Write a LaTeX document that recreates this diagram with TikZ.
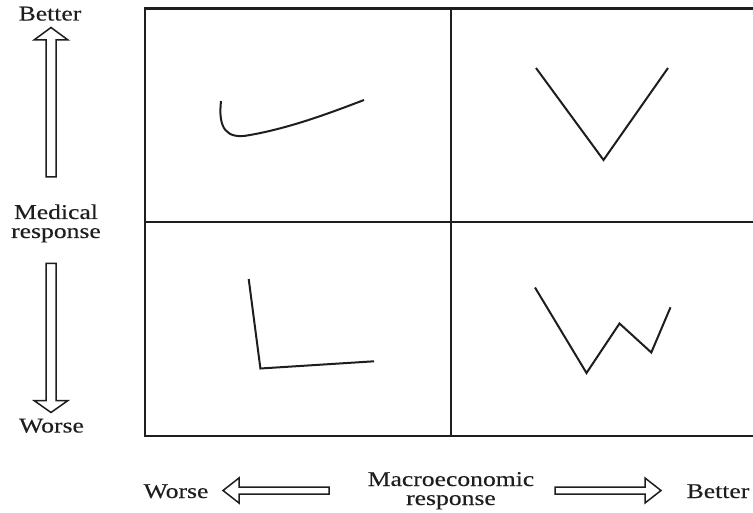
\documentclass[tikz,border=0pt]{standalone}
\usepackage{fontspec}
\setmainfont[FakeStretch=1.22,FakeBold=0.25]{Liberation Serif}
\definecolor{ink}{HTML}{1E1E1E}
\begin{document}
\begin{tikzpicture}[x=1pt,y=-1pt,
  lbl/.style={inner sep=0pt,anchor=base,font=\fontsize{21}{19}\selectfont,text=ink,align=center},
  frame/.style={draw=ink,line width=2.4pt},
  divider/.style={draw=ink,line width=1.3pt},
  curve/.style={draw=ink,line width=2pt,line join=miter},
  blockarrow/.style={draw=ink,line width=1.5pt,fill=white,line join=miter}]
\useasboundingbox (0,0) rectangle (753,513);
\fill[white] (0,0) rectangle (753,513);
% frame and dividers
\begin{scope}
\clip (0,0) rectangle (753,513);
\draw[divider] (451,8.5) -- (451,436);
\draw[divider] (145,222) -- (770,222);
\draw[frame] (770,8.5) -- (145,8.5) -- (145,436) -- (770,436);
\end{scope}
% quadrant curves
\draw[curve] (221,101) .. controls (218,128) and (226,140) .. (250,135)
  .. controls (290,128) and (330,113) .. (364,100);
\draw[curve] (536,68) -- (603.5,160) -- (668,68);
\draw[curve] (248.7,279) -- (260.4,368.5) -- (374,361.3);
\draw[curve] (535,287.5) -- (586.5,373) -- (619.5,323.5) -- (651.3,352.5) -- (670.5,307.3);
% vertical block arrows
\draw[blockarrow] (46,177) -- (46,40) -- (34,40) -- (51,27.5) -- (68,40) -- (56,40) -- (56,177) -- cycle;
\draw[blockarrow] (46,263.5) -- (46,400.5) -- (34,400.5) -- (51,412.5) -- (68,400.5) -- (56,400.5) -- (56,263.5) -- cycle;
% horizontal block arrows
\draw[blockarrow] (329,487) -- (239,487) -- (239,478) -- (223,490.5) -- (239,503) -- (239,494) -- (329,494) -- cycle;
\draw[blockarrow] (555,487) -- (645,487) -- (645,478) -- (661,490.5) -- (645,503) -- (645,494) -- (555,494) -- cycle;
% labels
\node[lbl] (vbetter) at (50,20.5) {Better};
\node[lbl] (vmed) at (56,238) {Medical\\response};
\node[lbl] (vworse) at (51.5,432.5) {Worse};
\node[lbl] (hworse) at (176,498) {Worse};
\node[lbl] (hmac) at (451,505) {Macroeconomic\\response};
\node[lbl] (hbetter) at (718,498) {Better};
\end{tikzpicture}
\end{document}
